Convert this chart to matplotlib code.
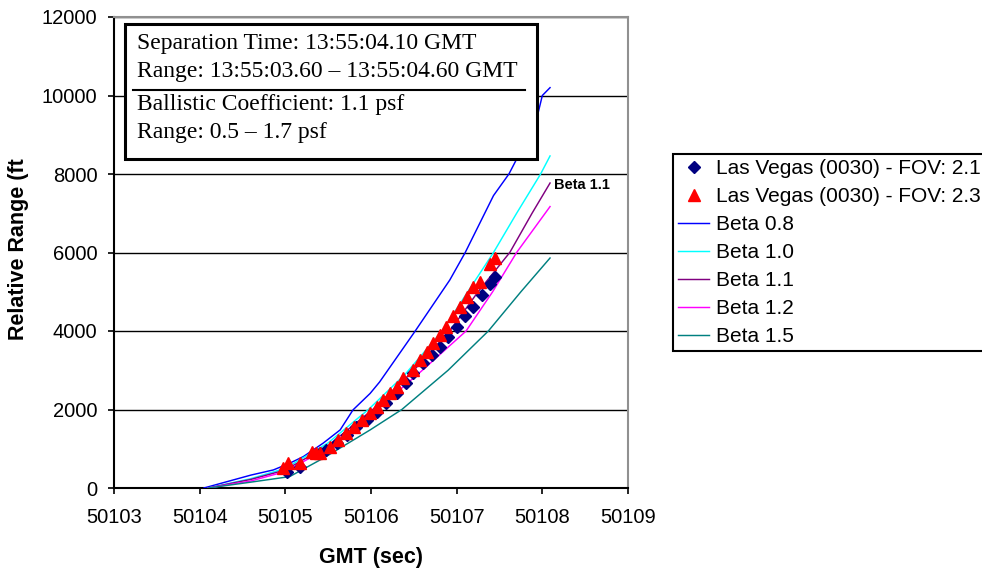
import matplotlib
matplotlib.use("Agg")
import matplotlib.pyplot as plt
from matplotlib.patches import Rectangle
from matplotlib.lines import Line2D

plt.rcParams['font.family'] = ['Liberation Sans', 'DejaVu Sans']

# ---- data ----
fov21_x = [50105.02, 50105.17, 50105.40, 50105.48, 50105.60, 50105.72, 50105.83, 50105.95,
           50106.07, 50106.18, 50106.30, 50106.41, 50106.49, 50106.61, 50106.71, 50106.80,
           50106.90, 50107.00, 50107.10, 50107.19, 50107.29, 50107.39, 50107.45]
fov21_y = [420, 540, 890, 970, 1140, 1350, 1560, 1730,
           1940, 2160, 2410, 2670, 2930, 3180, 3390, 3600,
           3850, 4110, 4370, 4620, 4920, 5210, 5380]

fov23_x = [50104.97, 50105.03, 50105.17, 50105.31, 50105.36, 50105.40, 50105.52, 50105.61,
           50105.71, 50105.80, 50105.90, 50105.99, 50106.07, 50106.14, 50106.22, 50106.30,
           50106.37, 50106.49, 50106.57, 50106.65, 50106.72, 50106.80, 50106.88, 50106.96,
           50107.04, 50107.12, 50107.19, 50107.27, 50107.39, 50107.45]
fov23_y = [510, 630, 640, 925, 880, 890, 1050, 1220,
           1400, 1560, 1730, 1900, 2070, 2240, 2410, 2580,
           2800, 3000, 3260, 3470, 3690, 3900, 4110, 4370,
           4620, 4870, 5130, 5260, 5700, 5860]

b08_x = [50104.05, 50104.60, 50104.86, 50105.05, 50105.21, 50105.44, 50105.64, 50105.79,
         50105.99, 50106.10, 50106.51, 50106.92, 50107.10, 50107.43, 50107.61, 50107.80,
         50107.95, 50108.00, 50108.09]
b08_y = [0, 330, 460, 630, 800, 1140, 1480, 1990,
         2410, 2700, 3980, 5300, 6000, 7450, 8000, 8800,
         9550, 10000, 10200]

b10_x = [50104.10, 50104.60, 50105.00, 50105.50, 50105.97, 50106.40, 50106.83, 50107.13,
         50107.43, 50107.70, 50107.98, 50108.09]
b10_y = [0, 240, 500, 1150, 2000, 2900, 4000, 5000,
         6000, 7000, 8000, 8460]

b11_x = [50104.10, 50104.60, 50105.00, 50105.50, 50106.02, 50106.50, 50106.92, 50107.25,
         50107.62, 50107.88, 50108.09]
b11_y = [0, 220, 460, 1080, 2000, 3000, 4000, 5000,
         6000, 7000, 7770]

b12_x = [50104.10, 50104.60, 50105.00, 50105.50, 50106.07, 50106.60, 50107.11, 50107.42,
         50107.70, 50108.09]
b12_y = [0, 180, 420, 1020, 2000, 3000, 4000, 5000,
         6000, 7170]

b15_x = [50104.10, 50104.60, 50105.05, 50105.44, 50105.99, 50106.36, 50106.90, 50107.37,
         50107.75, 50108.09]
b15_y = [0, 150, 290, 755, 1480, 2000, 3000, 4000,
         5000, 5860]

x_ticks = [50103, 50104, 50105, 50106, 50107, 50108, 50109]
y_ticks = [0, 2000, 4000, 6000, 8000, 10000, 12000]

box_lines = ["Separation Time: 13:55:04.10 GMT",
             "Range: 13:55:03.60 \u2013 13:55:04.60 GMT",
             "Ballistic Coefficient: 1.1 psf",
             "Range: 0.5 \u2013 1.7 psf"]

W, H = 982, 571
fig = plt.figure(figsize=(W / 100, H / 100), dpi=100)
ax = fig.add_axes([114 / W, 1 - 488 / H, (628 - 114) / W, (488 - 17) / H])

ax.set_xlim(50103, 50109)
ax.set_ylim(0, 12000)
ax.set_xticks(x_ticks)
ax.set_yticks(y_ticks)
ax.set_xticklabels([str(t) for t in x_ticks])
ax.set_yticklabels([str(t) for t in y_ticks])
ax.tick_params(axis='both', direction='out', length=4, width=1.2, labelsize=14.5,
               colors='black')
ax.tick_params(axis='x', pad=10.5)
ax.tick_params(axis='y', pad=8)
ax.yaxis.grid(True, color='black', linewidth=1.0)
ax.set_axisbelow(True)
ax.spines['left'].set_linewidth(1.5)
ax.spines['bottom'].set_linewidth(1.5)
ax.spines['top'].set_color('#909090')
ax.spines['right'].set_color('#909090')
ax.spines['top'].set_linewidth(1.5)
ax.spines['right'].set_linewidth(1.5)

lw = 1.05
ax.plot(b08_x, b08_y, color='#0000FF', lw=lw, label='Beta 0.8', zorder=3)
ax.plot(b10_x, b10_y, color='#00FFFF', lw=lw, label='Beta 1.0', zorder=3)
ax.plot(b11_x, b11_y, color='#800080', lw=lw, label='Beta 1.1', zorder=3)
ax.plot(b12_x, b12_y, color='#FF00FF', lw=lw, label='Beta 1.2', zorder=3)
ax.plot(b15_x, b15_y, color='#008080', lw=lw, label='Beta 1.5', zorder=3)
ax.plot(fov21_x, fov21_y, linestyle='none', marker='D', ms=6.5, color='#000080',
        label='Las Vegas (0030) - FOV: 2.1', zorder=4)
ax.plot(fov23_x, fov23_y, linestyle='none', marker='^', ms=9, color='#FF0000',
        label='Las Vegas (0030) - FOV: 2.3', zorder=5)

ax.text(b11_x[-1] + 0.05, b11_y[-1] - 60, 'Beta 1.1', fontsize=10.5, fontweight='bold',
        ha='left', va='center', zorder=6)

ax.set_xlabel('GMT (sec)', fontsize=15.5, fontweight='bold', labelpad=14)
fig.text(19 / W, 1 - 249 / H, 'Relative Range (ft', rotation=90, fontsize=15.5,
         fontweight='bold', ha='center', va='center')

# text box
bx0, by0, bx1, by1 = 125, 24, 537, 159
fig.patches.append(Rectangle((bx0 / W, 1 - by1 / H), (bx1 - bx0) / W, (by1 - by0) / H,
                             transform=fig.transFigure, facecolor='white',
                             edgecolor='black', linewidth=2.2, zorder=10))
rows_base = [49, 77, 110, 138]
for s, yy in zip(box_lines, rows_base):
    fig.text(137 / W, 1 - yy / H, s, fontsize=17, family=['Liberation Serif', 'DejaVu Serif'],
             ha='left', va='baseline', zorder=11)
fig.lines.append(Line2D([133 / W, 525 / W], [1 - 90 / H, 1 - 90 / H],
                        transform=fig.transFigure, color='black', lw=1.5, zorder=11))

# legend
handles, labels = ax.get_legend_handles_labels()
order = [5, 6, 0, 1, 2, 3, 4]
leg = fig.legend([handles[i] for i in order], [labels[i] for i in order],
                 loc='upper left', bbox_to_anchor=(673 / W, 1 - 154 / H),
                 bbox_transform=fig.transFigure, fontsize=15, frameon=True,
                 fancybox=False, edgecolor='black', framealpha=1, borderpad=0.25,
                 labelspacing=0.43, handlelength=1.5, handletextpad=0.3,
                 borderaxespad=0)
leg.get_frame().set_linewidth(1.5)

fig.savefig('out.png', dpi=100)
